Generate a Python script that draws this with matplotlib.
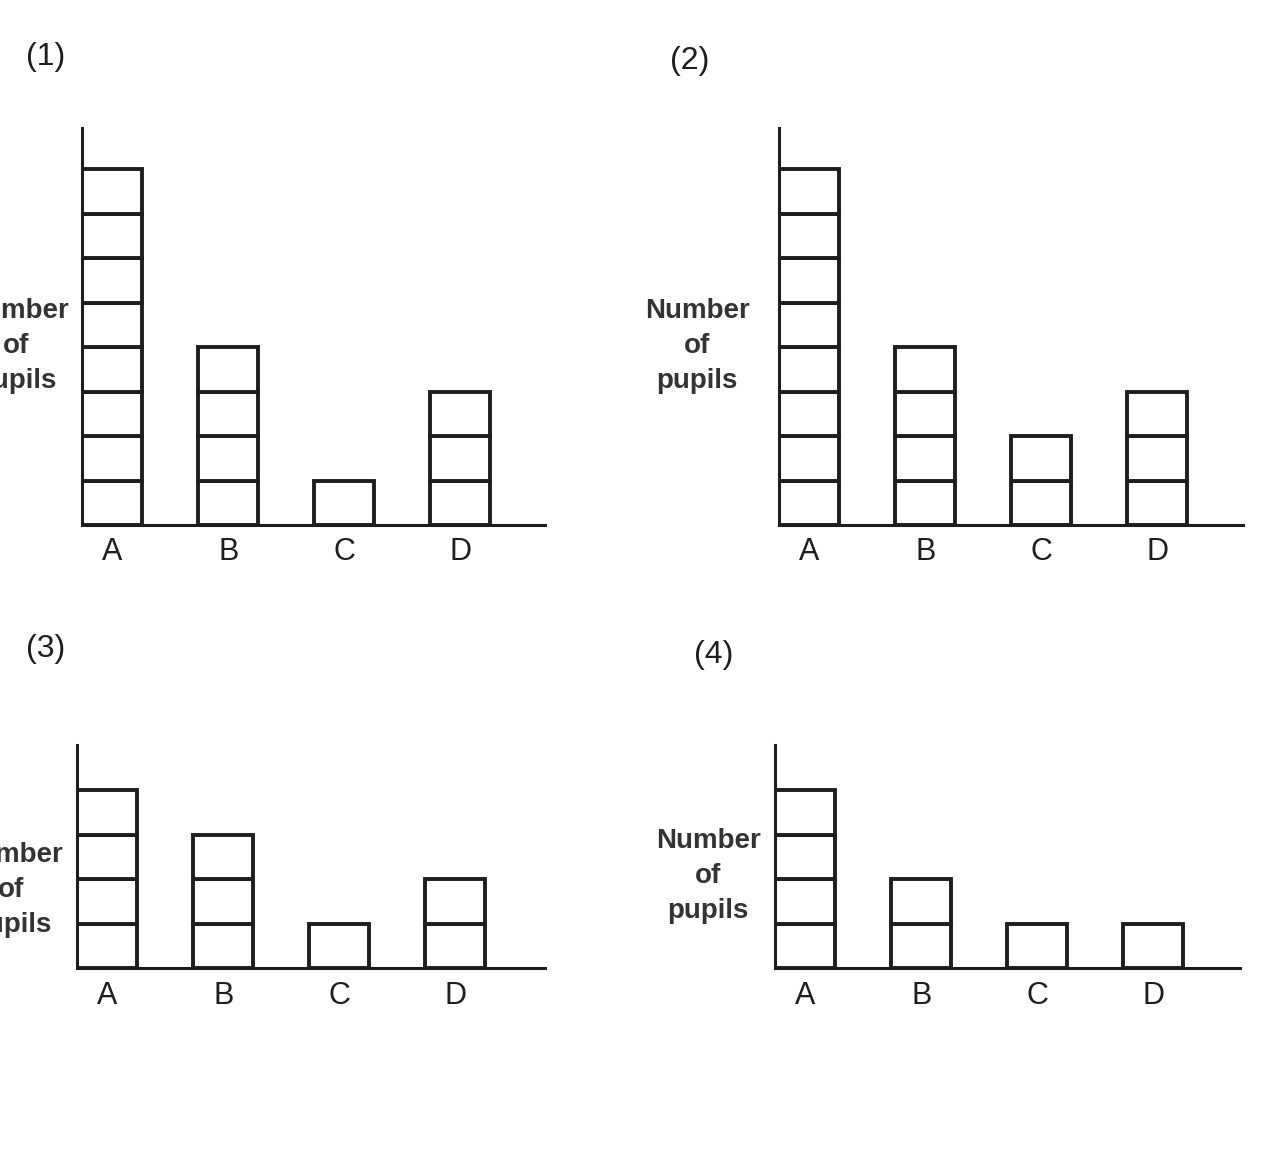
import matplotlib.pyplot as plt

# --- Data: number of pupils per group, one list per panel ---
categories = ['A', 'B', 'C', 'D']
counts_1 = [8, 4, 1, 3]
counts_2 = [8, 4, 2, 3]
counts_3 = [4, 3, 1, 2]
counts_4 = [4, 2, 1, 1]
panel_names = ['(1)', '(2)', '(3)', '(4)']

W, H = 1287, 1164
ink = '#1e1e1e'
plt.rcParams['font.family'] = ['Liberation Sans', 'DejaVu Sans']

fig = plt.figure(figsize=(W / 100, H / 100), dpi=100)

# pixel layout of each panel: left, right, baseline, top
boxes = [(82, 545, 525, 128), (779, 1243, 525, 128),
         (77, 545, 968, 745), (775, 1240, 968, 745)]
# where the panel label and the y label sit (pixel centres)
name_pos = [(46, 57), (690, 61), (46, 649), (714, 655)]
ylab_pos = [(16, 346), (697, 346), (11, 890), (708, 876)]

px_unit_x = 116.0   # pixels between bar centres
px_unit_y = 44.5    # pixels per pupil box
half_w = 0.26

def fx(x):
    return x / W

def fy(y):
    return 1 - y / H

for counts, (l, r, b, t), name, npos, ypos in zip(
        [counts_1, counts_2, counts_3, counts_4], boxes,
        panel_names, name_pos, ylab_pos):
    ax = fig.add_axes([fx(l), fy(b), (r - l) / W, (b - t) / H])
    # one square per pupil, stacked
    for i, n in enumerate(counts):
        for k in range(n):
            ax.bar(i, 1, bottom=k, width=0.52, facecolor='white',
                   edgecolor=ink, linewidth=2.8)
    ax.set_xlim(-half_w, (r - l) / px_unit_x - half_w)
    ax.set_ylim(0, (b - t) / px_unit_y)
    for side in ['top', 'right']:
        ax.spines[side].set_visible(False)
    for side in ['left', 'bottom']:
        ax.spines[side].set_linewidth(2.2)
        ax.spines[side].set_color(ink)
        ax.spines[side].set_zorder(5)
    ax.set_xticks(range(len(categories)))
    ax.set_xticklabels(categories, fontsize=22, color=ink)
    ax.set_yticks([])
    ax.tick_params(axis='x', length=0, pad=9)

    fig.text(fx(npos[0]), fy(npos[1]), name, fontsize=23, color=ink,
             ha='center', va='center')
    fig.text(fx(ypos[0]), fy(ypos[1]), 'Number\nof\npupils', fontsize=20,
             fontweight='bold', color='#333333', ha='center', va='center',
             linespacing=1.45)

fig.savefig('out.png', dpi=100, facecolor='white')
